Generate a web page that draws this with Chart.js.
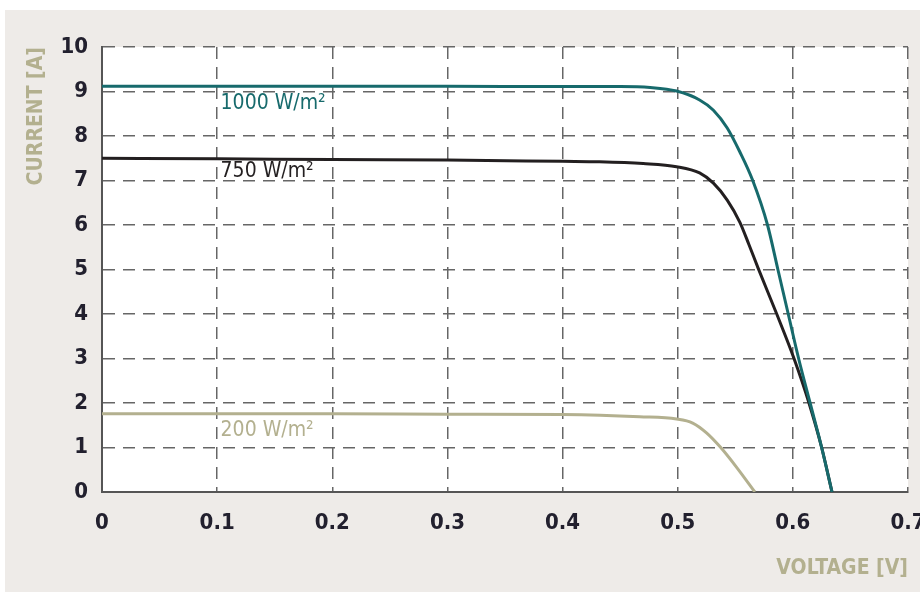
<!DOCTYPE html>
<html>
<head>
<meta charset="utf-8">
<script src="https://cdn.jsdelivr.net/npm/chart.js@4/dist/chart.umd.min.js"></script>
<style>
    html, body { margin: 0; padding: 0; background: #ffffff; overflow: hidden; width: 920px; height: 592px; }
    #panel { position: absolute; left: 5px; top: 10px; right: 0; bottom: 0; background: #eeebe8; }
    #ivChart { position: absolute; left: 0; top: 0; }
</style>
</head>
<body>
<div id="panel"></div>
<canvas id="ivChart" width="950" height="592"></canvas>
<script>
// I-V curves at three irradiance levels
const volts1000 = [0, 0.1, 0.2, 0.3, 0.4, 0.45, 0.476, 0.499, 0.519, 0.531, 0.543, 0.554, 0.565, 0.578, 0.587, 0.596, 0.605, 0.615, 0.625, 0.634];
const amps1000  = [9.12, 9.12, 9.12, 9.12, 9.11, 9.11, 9.09, 9.01, 8.81, 8.58, 8.18, 7.64, 7.01, 6.0, 5.0, 4.0, 3.0, 2.0, 1.0, 0];

const volts750 = [0, 0.1, 0.2, 0.3, 0.4, 0.432, 0.47, 0.499, 0.519, 0.531, 0.543, 0.554, 0.562, 0.570, 0.586, 0.601, 0.614, 0.625, 0.634];
const amps750  = [7.5, 7.49, 7.47, 7.46, 7.43, 7.42, 7.38, 7.31, 7.17, 6.94, 6.56, 6.06, 5.55, 5.02, 4.0, 3.0, 2.0, 1.0, 0];

const volts200 = [0, 0.1, 0.2, 0.3, 0.4, 0.467, 0.499, 0.513, 0.525, 0.537, 0.551, 0.567];
const amps200  = [1.76, 1.76, 1.76, 1.75, 1.74, 1.69, 1.64, 1.55, 1.33, 1.01, 0.56, 0];

const seriesNames = ['1000 W/m²', '750 W/m²', '200 W/m²'];
// where each series name is written (volts, amps)
const labelVolts = [0.103, 0.103, 0.103];
const labelAmps  = [8.72, 7.21, 1.37];

const xTicks = [0, 0.1, 0.2, 0.3, 0.4, 0.5, 0.6, 0.7];
const xTickLabels = ['0', '0.1', '0.2', '0.3', '0.4', '0.5', '0.6', '0.7'];
const yTicks = [0, 1, 2, 3, 4, 5, 6, 7, 8, 9, 10];

const colors = ['#176a6c', '#231f20', '#b3b08f'];
const narrow = "'Liberation Sans Narrow', 'DejaVu Sans Condensed', sans-serif";
const condensed = "'DejaVu Sans Condensed', 'Liberation Sans Narrow', sans-serif";

function toPoints(xs, ys) {
    return xs.map((x, i) => ({ x: x, y: ys[i] }));
}

const plotBackground = {
    id: 'plotBackground',
    beforeDraw(chart) {
        const { ctx, chartArea } = chart;
        ctx.save();
        ctx.fillStyle = '#ffffff';
        ctx.fillRect(chartArea.left, chartArea.top, chartArea.right - chartArea.left, chartArea.bottom - chartArea.top);
        ctx.restore();
    }
};

const seriesLabels = {
    id: 'seriesLabels',
    afterDatasetsDraw(chart) {
        const { ctx } = chart;
        const xs = chart.scales.x, ys = chart.scales.y;
        ctx.save();
        ctx.font = '21px ' + condensed;
        ctx.textBaseline = 'middle';
        ctx.textAlign = 'left';
        seriesNames.forEach((name, i) => {
            ctx.fillStyle = colors[i];
            ctx.fillText(name, xs.getPixelForValue(labelVolts[i]), ys.getPixelForValue(labelAmps[i]));
        });
        ctx.restore();
    }
};

const datasets = [
    { label: seriesNames[0], data: toPoints(volts1000, amps1000) },
    { label: seriesNames[1], data: toPoints(volts750, amps750) },
    { label: seriesNames[2], data: toPoints(volts200, amps200) }
].map((ds, i) => Object.assign(ds, {
    borderColor: colors[i],
    borderWidth: 3,
    pointRadius: 0,
    showLine: true,
    fill: false,
    cubicInterpolationMode: 'monotone'
}));

const ctx = document.getElementById('ivChart').getContext('2d');
new Chart(ctx, {
    type: 'scatter',
    data: { datasets: datasets },
    options: {
        responsive: false,
        devicePixelRatio: 1,
        animation: false,
        layout: { padding: { top: 47, right: 42, bottom: 0, left: 0 } },
        plugins: {
            legend: { display: false },
            tooltip: { enabled: false }
        },
        scales: {
            x: {
                type: 'linear',
                min: 0,
                max: 0.7,
                afterBuildTicks: (scale) => { scale.ticks = xTicks.map(v => ({ value: v })); },
                afterFit: (scale) => { scale.height = 100; },
                grid: { color: '#666666', lineWidth: 1.5, drawTicks: false },
                border: { display: true, color: '#555555', width: 2, dash: [12, 8] },
                ticks: {
                    color: '#22202e',
                    padding: 18,
                    maxRotation: 0,
                    font: { family: narrow, size: 22, weight: 'bold' },
                    callback: (v) => xTickLabels[xTicks.indexOf(v)]
                },
                title: {
                    display: true,
                    text: 'VOLTAGE [V]',
                    align: 'end',
                    color: '#b3b08f',
                    padding: { top: 0, bottom: 11 },
                    font: { family: narrow, size: 21, weight: 'bold' }
                }
            },
            y: {
                type: 'linear',
                min: 0,
                max: 10,
                afterBuildTicks: (scale) => { scale.ticks = yTicks.map(v => ({ value: v })); },
                afterFit: (scale) => { scale.width = 102; },
                grid: { color: '#666666', lineWidth: 1.5, drawTicks: false },
                border: { display: true, color: '#555555', width: 2, dash: [12, 8] },
                ticks: {
                    color: '#22202e',
                    padding: 14,
                    font: { family: narrow, size: 22, weight: 'bold' }
                },
                title: {
                    display: true,
                    text: 'CURRENT [A]',
                    align: 'end',
                    color: '#b3b08f',
                    padding: { top: 24, bottom: 0 },
                    font: { family: narrow, size: 21, weight: 'bold' }
                }
            }
        }
    },
    plugins: [plotBackground, seriesLabels]
});
</script>
</body>
</html>
